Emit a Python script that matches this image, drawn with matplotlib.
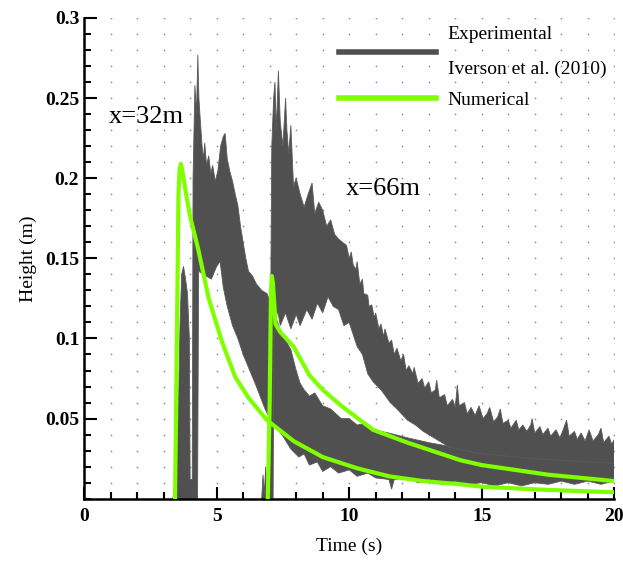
import matplotlib
matplotlib.use('Agg')
import matplotlib.pyplot as plt
import numpy as np

plt.rcParams['font.family'] = ['Liberation Serif', 'DejaVu Serif']

# experimental band, gauge x=32m (upper / lower envelopes)
t_e1_up = [3.35, 3.45, 3.55, 3.62, 3.68, 3.75, 3.82, 3.9, 3.97, 4.0, 4.08, 4.11, 4.18, 4.24, 4.29, 4.33,
           4.38, 4.45, 4.5, 4.55, 4.62, 4.7, 4.78, 4.85, 4.95, 5.05, 5.15, 5.25, 5.32, 5.4, 5.5, 5.6,
           5.7, 5.8, 5.9, 6.0, 6.1, 6.2, 6.35, 6.5, 6.7, 6.9, 7.1, 7.4, 7.8, 8.0, 8.15, 8.3, 8.5, 8.7,
           9.0, 9.3, 9.7, 10.0, 10.3, 10.6, 10.9, 11.5, 12.2, 13.0, 14.0, 16.0, 18.0, 20.0]
h_e1_up = [0.0, 0.012, 0.05, 0.11, 0.14, 0.145, 0.138, 0.128, 0.1, 0.012, 0.012, 0.2, 0.258, 0.24, 0.277, 0.25,
           0.237, 0.22, 0.212, 0.222, 0.208, 0.214, 0.203, 0.208, 0.198, 0.205, 0.22, 0.226, 0.228, 0.212, 0.204, 0.198,
           0.19, 0.183, 0.17, 0.16, 0.15, 0.142, 0.139, 0.134, 0.13, 0.128, 0.12, 0.105, 0.093, 0.08, 0.072, 0.068, 0.064, 0.066,
           0.058, 0.056, 0.05, 0.05, 0.046, 0.047, 0.043, 0.041, 0.038, 0.035, 0.032, 0.03, 0.028, 0.026]
t_e1_lo = [3.35, 4.0, 4.28, 4.32, 4.5, 4.8, 5.0, 5.13, 5.25, 5.4, 5.6, 5.8, 6.0, 6.2, 6.5, 6.8, 7.0,
           7.5, 7.8, 8.1, 8.3, 8.5, 8.8, 9.0, 9.3, 9.6, 10.0, 10.3, 10.7, 11.0, 11.5, 11.6, 11.7, 12.2,
           12.6, 13.0, 13.5, 14.0, 14.5, 15.0, 15.5, 16.0, 16.5, 17.0, 17.5, 18.0, 18.5, 19.0, 19.5, 20.0]
h_e1_lo = [0.0, 0.0, 0.0, 0.142, 0.14, 0.137, 0.145, 0.148, 0.132, 0.12, 0.108, 0.1, 0.09, 0.082, 0.07, 0.057, 0.05,
           0.039, 0.031, 0.026, 0.028, 0.021, 0.023, 0.017, 0.02, 0.016, 0.018, 0.014, 0.016, 0.013, 0.012, 0.006, 0.012, 0.013,
           0.01, 0.012, 0.009, 0.011, 0.009, 0.01, 0.008, 0.01, 0.008, 0.01, 0.009, 0.011, 0.009, 0.011, 0.009, 0.011]

# experimental band, gauge x=66m
t_e2_up = [6.7, 6.75, 6.8, 6.85, 6.9, 6.98, 7.02, 7.05, 7.08, 7.15, 7.2, 7.25, 7.33, 7.4, 7.5, 7.6, 7.65,
           7.72, 7.8, 7.9, 8.0, 8.15, 8.3, 8.45, 8.6, 8.7, 8.85, 9.0, 9.15, 9.3, 9.45, 9.6, 9.75, 9.9,
           10.0, 10.08, 10.15, 10.25, 10.3, 10.4, 10.5, 10.55, 10.7, 10.75, 10.85, 10.95, 11.0, 11.12, 11.2,
           11.3, 11.35, 11.5, 11.6, 11.7, 11.8, 11.95, 12.05, 12.15, 12.25, 12.4, 12.45, 12.6, 12.75, 12.85,
           13.0, 13.1, 13.25, 13.3, 13.4, 13.6, 13.7, 13.9, 14.0, 14.08, 14.15, 14.35, 14.45, 14.6, 14.75,
           14.9, 15.05, 15.2, 15.3, 15.45, 15.6, 15.7, 15.8, 16.0, 16.1, 16.3, 16.4, 16.55, 16.7, 16.85,
           16.9, 17.0, 17.2, 17.3, 17.5, 17.6, 17.8, 17.95, 18.05, 18.2, 18.3, 18.5, 18.6, 18.75, 18.9,
           19.05, 19.2, 19.4, 19.5, 19.6, 19.8, 19.9, 20.0]
h_e2_up = [0.0, 0.015, 0.003, 0.02, 0.005, 0.01, 0.02, 0.15, 0.22, 0.25, 0.26, 0.23, 0.267, 0.235, 0.22, 0.25, 0.23,
           0.215, 0.233, 0.195, 0.2, 0.19, 0.182, 0.19, 0.197, 0.178, 0.185, 0.18, 0.17, 0.174, 0.165, 0.162, 0.16, 0.158,
           0.15, 0.154, 0.146, 0.143, 0.148, 0.134, 0.137, 0.128, 0.127, 0.12, 0.121, 0.113, 0.116, 0.106, 0.109,
           0.101, 0.106, 0.097, 0.099, 0.09, 0.094, 0.086, 0.09, 0.08, 0.083, 0.078, 0.082, 0.072, 0.075, 0.069,
           0.073, 0.066, 0.068, 0.074, 0.063, 0.065, 0.058, 0.062, 0.057, 0.071, 0.058, 0.06, 0.053, 0.057, 0.052,
           0.058, 0.05, 0.053, 0.057, 0.048, 0.051, 0.056, 0.047, 0.049, 0.044, 0.049, 0.043, 0.046, 0.042, 0.046,
           0.05, 0.041, 0.045, 0.04, 0.044, 0.039, 0.043, 0.038, 0.042, 0.049, 0.039, 0.042, 0.037, 0.041, 0.036,
           0.043, 0.036, 0.04, 0.044, 0.035, 0.039, 0.034, 0.037]
t_e2_lo = [6.7, 7.13, 7.16, 7.3, 7.4, 7.6, 7.8, 8.0, 8.15, 8.4, 8.6, 8.8, 9.0, 9.2, 9.4, 9.6, 9.8, 10.0,
           10.3, 10.5, 10.7, 10.9, 11.2, 11.55, 11.8, 12.2, 12.5, 12.8, 13.2, 13.8, 15.0, 17.0, 20.0]
h_e2_lo = [0.0, 0.0, 0.1, 0.118, 0.108, 0.116, 0.106, 0.115, 0.108, 0.118, 0.112, 0.122, 0.116, 0.126, 0.12, 0.118,
           0.108, 0.11, 0.095, 0.09, 0.078, 0.073, 0.068, 0.06, 0.056, 0.049, 0.046, 0.042, 0.038, 0.032, 0.028, 0.025,
           0.022]

# numerical
t_n1 = [3.43, 3.5, 3.56, 3.6, 3.65, 3.7, 3.85, 4.0, 4.3, 4.7, 5.2, 5.7, 6.2, 6.9, 7.9, 9.0, 10.3,
        11.5, 12.8, 14.2, 15.0, 17.5, 20.0]
h_n1 = [0.0, 0.1, 0.19, 0.205, 0.209, 0.205, 0.19, 0.176, 0.156, 0.125, 0.098, 0.076, 0.063, 0.049, 0.036, 0.026,
        0.019, 0.014, 0.011, 0.009, 0.0075, 0.0055, 0.004]
t_n2 = [6.93, 7.0, 7.05, 7.08, 7.12, 7.18, 7.22, 7.4, 7.9, 8.5, 9.0, 9.7, 10.9, 12.2, 14.2, 15.0, 17.5, 20.0]
h_n2 = [0.0, 0.06, 0.13, 0.139, 0.135, 0.12, 0.109, 0.104, 0.095, 0.077, 0.068, 0.058, 0.043, 0.035, 0.024, 0.021,
        0.015, 0.011]

xticks = [0, 5, 10, 15, 20]
yticks = [0.05, 0.1, 0.15, 0.2, 0.25, 0.3]
ylabels = ['0.05', '0.1', '0.15', '0.2', '0.25', '0.3']

fig = plt.figure(figsize=(6.23, 5.61), dpi=100)
ax = fig.add_axes([0.135, 0.111, 0.851, 0.857])

gray = '#505050'
green = '#80ff00'

# dotted grid: a dot at every minor tick crossing
gx, gy = np.meshgrid(np.arange(1, 21), np.arange(1, 31) / 100)
ax.plot(gx.ravel(), gy.ravel(), ls='none', marker='s', ms=1.1, color='#8a8a8a', mew=0, zorder=0)

for tu, hu, tl, hl in [(t_e1_up, h_e1_up, t_e1_lo, h_e1_lo), (t_e2_up, h_e2_up, t_e2_lo, h_e2_lo)]:
    ax.fill(np.concatenate([tu, tl[::-1]]), np.concatenate([hu, hl[::-1]]),
            facecolor=gray, edgecolor='#5a5a5a', lw=0.6, zorder=2)

ax.plot(t_n1, h_n1, color=green, lw=3, zorder=3)
ax.plot(t_n2, h_n2, color=green, lw=3, zorder=3)

# legend handles
ax.plot([], [], color=gray, lw=4, label='Experimental\nIverson et al. (2010)')
ax.plot([], [], color=green, lw=4, label='Numerical')
leg = ax.legend(loc='upper right', bbox_to_anchor=(1.0, 1.0), frameon=False, fontsize=14,
                handlelength=5.0, handletextpad=0.6, labelspacing=0.7, borderaxespad=0.0)
for txt in leg.get_texts():
    txt.set_linespacing(2.35)

ax.text(2.35, 0.238, 'x=32m', fontsize=19, ha='center', va='center')
ax.text(11.3, 0.193, 'x=66m', fontsize=19, ha='center', va='center')

ax.set_xlim(0, 20)
ax.set_ylim(0, 0.3)
ax.set_xticks(xticks)
ax.set_xticks(range(0, 21), minor=True)
ax.set_yticks(yticks, ylabels)
ax.set_yticks(np.arange(0, 31) / 100, minor=True)
ax.tick_params(which='both', direction='in', width=1.5, labelsize=14)
ax.tick_params(which='major', length=9)
ax.tick_params(which='minor', length=5)
for lbl in ax.get_xticklabels() + ax.get_yticklabels():
    lbl.set_fontweight('bold')
ax.spines['top'].set_visible(False)
ax.spines['right'].set_visible(False)
ax.spines['left'].set_linewidth(1.8)
ax.spines['bottom'].set_linewidth(1.8)
ax.tick_params(axis='x', pad=7)
ax.set_xlabel('Time (s)', fontsize=14, labelpad=9)
ax.set_ylabel('Height (m)', fontsize=14, labelpad=6)

fig.savefig('out.png', dpi=100)
